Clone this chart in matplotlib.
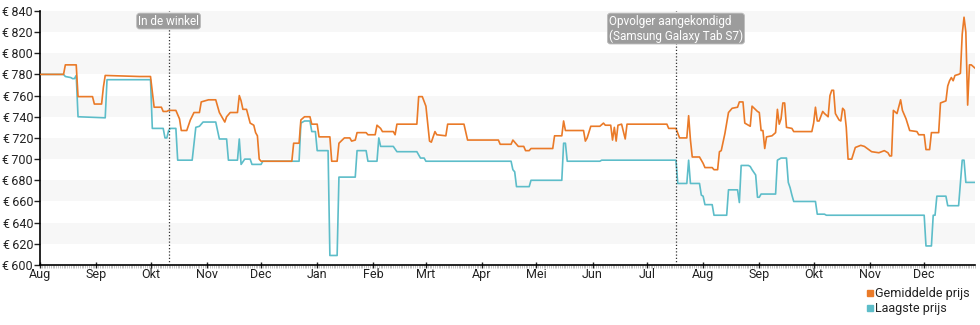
import matplotlib
matplotlib.use("Agg")
import matplotlib.pyplot as plt
import matplotlib.dates as mdates
from matplotlib.lines import Line2D
import pandas as pd

plt.rcParams['font.family'] = ['Roboto', 'DejaVu Sans']

# Gemiddelde prijs (orange)
avg_dates = [
    "2019-08-01", "2019-08-14", "2019-08-15", "2019-08-21", "2019-08-22", "2019-08-30", "2019-08-31",
    "2019-09-04", "2019-09-05", "2019-09-06", "2019-09-25",
    "2019-10-01", "2019-10-03", "2019-10-07", "2019-10-08", "2019-10-10", "2019-10-11", "2019-10-15",
    "2019-10-17", "2019-10-18", "2019-10-21", "2019-10-23", "2019-10-25", "2019-10-28", "2019-10-29",
    "2019-11-02", "2019-11-06", "2019-11-08", "2019-11-11", "2019-11-12", "2019-11-14", "2019-11-18",
    "2019-11-19", "2019-11-20", "2019-11-21", "2019-11-23", "2019-11-25", "2019-11-27", "2019-11-28",
    "2019-11-29", "2019-11-30",
    "2019-12-01", "2019-12-18", "2019-12-19", "2019-12-22", "2019-12-23", "2019-12-25", "2019-12-28", "2019-12-29",
    "2020-01-01", "2020-01-02", "2020-01-08", "2020-01-09", "2020-01-12", "2020-01-13", "2020-01-16",
    "2020-01-19", "2020-01-20", "2020-01-22", "2020-01-23", "2020-01-28", "2020-01-29",
    "2020-02-02", "2020-02-03", "2020-02-05", "2020-02-06", "2020-02-12", "2020-02-13", "2020-02-14",
    "2020-02-25", "2020-02-26", "2020-02-28",
    "2020-03-01", "2020-03-03", "2020-03-04", "2020-03-06", "2020-03-07", "2020-03-12", "2020-03-13",
    "2020-03-22", "2020-03-24",
    "2020-04-10", "2020-04-11", "2020-04-17", "2020-04-18", "2020-04-19", "2020-04-21", "2020-04-24",
    "2020-04-25", "2020-04-27", "2020-04-28",
    "2020-05-10", "2020-05-11", "2020-05-15", "2020-05-16", "2020-05-17", "2020-05-27", "2020-05-28",
    "2020-05-29", "2020-05-31",
    "2020-06-05", "2020-06-07", "2020-06-08", "2020-06-11", "2020-06-12", "2020-06-13", "2020-06-14",
    "2020-06-15", "2020-06-17", "2020-06-19", "2020-06-20",
    "2020-07-12", "2020-07-13", "2020-07-17", "2020-07-19", "2020-07-23", "2020-07-24", "2020-07-25",
    "2020-07-26", "2020-07-30",
    "2020-08-01", "2020-08-02", "2020-08-06", "2020-08-07", "2020-08-09", "2020-08-10", "2020-08-11",
    "2020-08-13", "2020-08-15", "2020-08-17", "2020-08-20", "2020-08-21", "2020-08-23", "2020-08-24",
    "2020-08-27", "2020-08-28", "2020-08-31",
    "2020-09-01", "2020-09-02", "2020-09-03", "2020-09-04", "2020-09-05", "2020-09-08", "2020-09-10",
    "2020-09-11", "2020-09-12", "2020-09-13", "2020-09-14", "2020-09-15", "2020-09-16", "2020-09-19",
    "2020-09-20", "2020-09-30",
    "2020-10-01", "2020-10-02", "2020-10-03", "2020-10-04", "2020-10-06", "2020-10-07", "2020-10-09",
    "2020-10-10", "2020-10-11", "2020-10-12", "2020-10-13", "2020-10-15", "2020-10-16", "2020-10-17",
    "2020-10-18", "2020-10-19", "2020-10-20", "2020-10-22", "2020-10-24", "2020-10-27", "2020-10-29",
    "2020-11-02", "2020-11-06", "2020-11-09", "2020-11-11", "2020-11-12", "2020-11-13", "2020-11-14",
    "2020-11-16", "2020-11-18", "2020-11-19", "2020-11-21", "2020-11-23", "2020-11-27", "2020-11-28",
    "2020-12-01", "2020-12-02", "2020-12-04", "2020-12-05", "2020-12-09", "2020-12-10", "2020-12-13",
    "2020-12-14", "2020-12-15", "2020-12-16", "2020-12-17", "2020-12-18", "2020-12-20", "2020-12-21",
    "2020-12-22", "2020-12-23", "2020-12-24", "2020-12-25", "2020-12-26", "2020-12-27", "2020-12-29",
]
avg_prices = [
    780, 780, 789, 789, 759, 759, 752,
    752, 768, 779, 778,
    778, 749, 749, 745, 745, 746, 746,
    738, 727, 727, 737, 744, 744, 754,
    756, 756, 744, 735, 740, 744, 744,
    760, 755, 747, 747, 734, 732, 725,
    722, 700,
    698, 698, 715, 715, 737, 740, 740, 733,
    733, 721, 721, 698, 698, 715, 720,
    720, 717, 718, 725, 725, 723,
    723, 732, 729, 726, 726, 723, 733,
    733, 759, 759,
    750, 717, 716, 726, 723, 722, 733,
    733, 718,
    718, 714, 714, 718, 716, 712, 712,
    708, 708, 710,
    710, 722, 722, 736, 727, 727, 717,
    720, 731,
    731, 734, 732, 732, 718, 730, 717,
    732, 733, 719, 733,
    733, 729, 729, 720, 720, 741, 718,
    702, 702,
    696, 692, 692, 690, 690, 707, 708,
    724, 744, 748, 749, 754, 754, 734,
    731, 750, 745,
    744, 727, 727, 710, 721, 722, 725,
    747, 733, 738, 753, 753, 730, 729,
    726, 726,
    734, 749, 736, 736, 745, 743, 740,
    760, 765, 765, 743, 737, 736, 748,
    746, 730, 700, 700, 711, 713, 712,
    707, 706, 708, 706, 703, 703, 746,
    743, 756, 746, 738, 727, 726, 723,
    723, 709, 709, 725, 725, 753, 755,
    769, 774, 777, 774, 779, 780, 781,
    818, 834, 820, 751, 789, 789, 786,
]

# Laagste prijs (teal)
low_dates = [
    "2019-08-01", "2019-08-14", "2019-08-15", "2019-08-18", "2019-08-19", "2019-08-20", "2019-08-21", "2019-08-22",
    "2019-09-06", "2019-09-07",
    "2019-10-01", "2019-10-02", "2019-10-08", "2019-10-09", "2019-10-10", "2019-10-11", "2019-10-12",
    "2019-10-15", "2019-10-16", "2019-10-24", "2019-10-26", "2019-10-28", "2019-10-30",
    "2019-11-06", "2019-11-08", "2019-11-12", "2019-11-13", "2019-11-18", "2019-11-19", "2019-11-20",
    "2019-11-22", "2019-11-25", "2019-11-26",
    "2019-12-01", "2019-12-02", "2019-12-22", "2019-12-23", "2019-12-25", "2019-12-28", "2019-12-29", "2019-12-31",
    "2020-01-01", "2020-01-07", "2020-01-08", "2020-01-12", "2020-01-13", "2020-01-22", "2020-01-23",
    "2020-01-28", "2020-01-29",
    "2020-02-03", "2020-02-04", "2020-02-05", "2020-02-12", "2020-02-14", "2020-02-25", "2020-02-27", "2020-02-29",
    "2020-03-01",
    "2020-04-17", "2020-04-18", "2020-04-19", "2020-04-20", "2020-04-27", "2020-04-28",
    "2020-05-15", "2020-05-16", "2020-05-17", "2020-05-18",
    "2020-06-05", "2020-06-06",
    "2020-07-17", "2020-07-18", "2020-07-23", "2020-07-24", "2020-07-25", "2020-07-30", "2020-07-31",
    "2020-08-01", "2020-08-02", "2020-08-06", "2020-08-07", "2020-08-14", "2020-08-15", "2020-08-20",
    "2020-08-21", "2020-08-22", "2020-08-26", "2020-08-27", "2020-08-28", "2020-08-30", "2020-08-31",
    "2020-09-01", "2020-09-02", "2020-09-10", "2020-09-11", "2020-09-13", "2020-09-16", "2020-09-17",
    "2020-09-18", "2020-09-19", "2020-09-20",
    "2020-10-02", "2020-10-03", "2020-10-07", "2020-10-08",
    "2020-12-01", "2020-12-02", "2020-12-05", "2020-12-06", "2020-12-07", "2020-12-08", "2020-12-13",
    "2020-12-14", "2020-12-20", "2020-12-22", "2020-12-23", "2020-12-24", "2020-12-29",
]
low_prices = [
    780, 780, 778, 777, 776, 776, 779, 740,
    739, 775,
    775, 729, 729, 720, 720, 727, 729,
    729, 699, 699, 730, 731, 735,
    735, 719, 719, 699, 699, 719, 695,
    700, 700, 695,
    695, 698, 698, 734, 736, 736, 726, 726,
    708, 708, 609, 609, 683, 683, 708,
    708, 698,
    698, 720, 712, 712, 707, 707, 701, 701,
    698,
    698, 690, 688, 674, 674, 680,
    680, 715, 715, 698,
    698, 699,
    699, 677, 677, 699, 677, 677, 666,
    665, 657, 657, 647, 647, 671, 671,
    659, 694, 694, 693, 690, 685, 664,
    664, 667, 667, 699, 701, 701, 678,
    673, 666, 660,
    660, 648, 648, 647,
    647, 618, 618, 647, 647, 665, 665,
    656, 656, 699, 699, 678, 678,
]

month_labels = ["Aug", "Sep", "Okt", "Nov", "Dec", "Jan", "Feb", "Mrt", "Apr", "Mei", "Jun", "Jul",
                "Aug", "Sep", "Okt", "Nov", "Dec"]
y_ticks = list(range(600, 841, 20))

events = ["2019-10-11", "2020-07-17"]
event_labels = ["In de winkel", "Opvolger aangekondigd\n(Samsung Galaxy Tab S7)"]

avg_color = "#ea7a28"
low_color = "#5dbdc9"

fig = plt.figure(figsize=(9.8, 3.25), dpi=100)
ax = fig.add_axes([0.0408, 0.1846, 0.954, 0.782])

# alternating bands
for lo in [620, 660, 700, 740, 780, 820]:
    ax.axhspan(lo, lo + 20, color="#f7f7f7", zorder=0, lw=0)

ax.plot(pd.to_datetime(avg_dates), avg_prices, color=avg_color, lw=1.2, zorder=3)
ax.plot(pd.to_datetime(low_dates), low_prices, color=low_color, lw=1.2, zorder=2)

for d, lab in zip(events, event_labels):
    x = pd.Timestamp(d)
    ax.axvline(x, color="#333333", lw=0.9, ls=(0, (1, 1.6)), zorder=4)
    ax.text(x, 836.5, lab, ha="center", va="top", fontsize=8.5, color="white",
            multialignment="left", linespacing=1.15, zorder=5,
            bbox=dict(boxstyle="round,pad=0.12,rounding_size=0.25", fc="#9c9c9c", ec="#bbbbbb", lw=0.6))

ax.set_ylim(600, 840)
ax.set_xlim(pd.Timestamp("2019-08-01"), pd.Timestamp("2020-12-29"))
ax.set_yticks(y_ticks)
ax.set_yticklabels(["€\u2009%d" % v for v in y_ticks])

ax.xaxis.set_major_locator(mdates.MonthLocator())
ax.set_xticks(ax.get_xticks())
ax.set_xticklabels(month_labels)
ax.xaxis.set_minor_locator(mdates.DayLocator())

for s in ["top", "right"]:
    ax.spines[s].set_visible(False)
ax.spines["left"].set_linewidth(1.2)
ax.spines["bottom"].set_linewidth(1.2)

ax.tick_params(axis="y", direction="out", length=4, width=1, labelsize=9, colors="#222222", pad=1)
ax.tick_params(axis="x", which="major", direction="inout", length=5, width=1, labelsize=9,
               colors="#222222", pad=0)
ax.tick_params(axis="x", which="minor", direction="out", length=2.5, width=0.5, color="#aaaaaa")

handles = [Line2D([], [], ls="none", marker="s", ms=5, color=avg_color, label="Gemiddelde prijs"),
           Line2D([], [], ls="none", marker="s", ms=5, color=low_color, label="Laagste prijs")]
fig.legend(handles=handles, loc="lower right", bbox_to_anchor=(1.0, 0.0), frameon=False,
           fontsize=9, handlelength=0.5, handletextpad=0.2, labelspacing=0.15, borderaxespad=0.4,
           labelcolor="#222222")

fig.savefig("out.png", dpi=100)
